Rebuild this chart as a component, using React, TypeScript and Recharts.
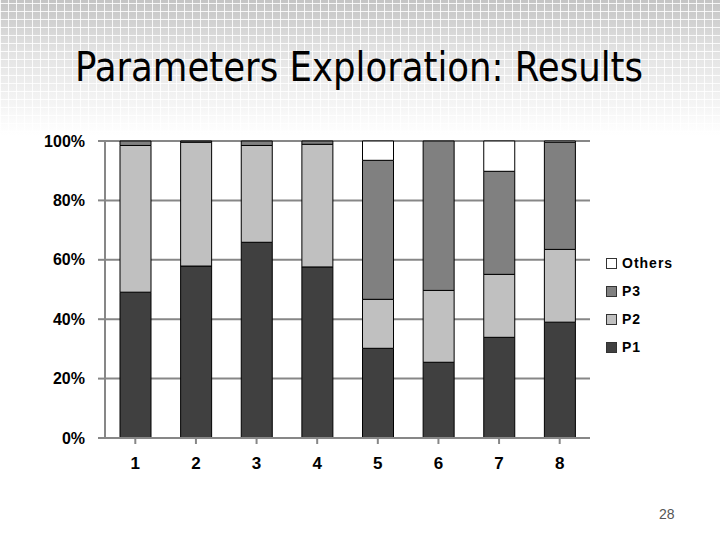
import React from "react";
import { Bar, BarChart, CartesianGrid, XAxis, YAxis } from "recharts";

const categories = ["1", "2", "3", "4", "5", "6", "7", "8"];
const p1 = [49.1, 57.9, 65.9, 57.6, 30.2, 25.5, 33.9, 39.0];
const p2 = [49.4, 41.7, 32.6, 41.3, 16.5, 24.2, 21.2, 24.5];
const p3 = [1.5, 0.4, 1.5, 1.1, 46.8, 50.3, 34.7, 36.1];
const others = [0, 0, 0, 0, 6.5, 0, 10.2, 0.4];
const yTicks = [0, 20, 40, 60, 80, 100];

const series = [
  { key: "P1", color: "#404040" },
  { key: "P2", color: "#c0c0c0" },
  { key: "P3", color: "#808080" },
  { key: "Others", color: "#ffffff" },
];

const data = categories.map((c, i) => ({
  name: c,
  P1: p1[i],
  P2: p2[i],
  P3: p3[i],
  Others: others[i],
}));

const labelFont = "'Liberation Sans', Arial, sans-serif";
const axisGray = "#878787";

// legend drawn by hand, recharts' Legend would eat plot space
function LegendBox() {
  return (
    <div style={{ position: "absolute", left: 606, top: 249, fontFamily: labelFont }}>
      {[...series].reverse().map((s) => (
        <div key={s.key} style={{ display: "flex", alignItems: "center", height: 28 }}>
          <span
            style={{
              width: 9,
              height: 9,
              background: s.color,
              border: "1px solid #333",
              marginRight: 5,
            }}
          />
          <span style={{ fontSize: 14, fontWeight: "bold", letterSpacing: 1, color: "#000" }}>{s.key}</span>
        </div>
      ))}
    </div>
  );
}

export default function App() {
  return (
    <div
      style={{
        position: "absolute",
        left: 0,
        top: 0,
        width: 720,
        height: 540,
        overflow: "hidden",
        background:
          "repeating-linear-gradient(90deg, rgba(255,255,255,0.85) 0 1px, transparent 1px 8px)," +
          "repeating-linear-gradient(0deg, rgba(255,255,255,0.85) 0 1px, transparent 1px 8px)," +
          "linear-gradient(#c4c4c4 0px, #e2e2e2 50px, #ffffff 135px)",
      }}
    >
      <svg width={720} height={130} style={{ position: "absolute", left: 0, top: 0 }}>
        <text
          x={75}
          y={81}
          fontSize={40}
          fontFamily="'Liberation Sans Narrow', 'DejaVu Sans Condensed', sans-serif"
          textLength={568}
          lengthAdjust="spacingAndGlyphs"
          fill="#000"
        >
          Parameters Exploration: Results
        </text>
      </svg>
      <div style={{ position: "absolute", left: 0, top: 0 }}>
        <BarChart
          width={720}
          height={540}
          data={data}
          margin={{ top: 141, left: 45, right: 130, bottom: 62 }}
        >
          <CartesianGrid vertical={false} stroke={axisGray} strokeWidth={2} />
          <XAxis
            dataKey="name"
            height={40}
            tickSize={6}
            tickMargin={13}
            stroke={axisGray}
            strokeWidth={2}
            tick={{ fill: "#000", fontSize: 17, fontWeight: "bold", fontFamily: labelFont }}
          />
          <YAxis
            width={60}
            domain={[0, 100]}
            ticks={yTicks}
            tickFormatter={(v) => `${v}%`}
            tickSize={7}
            tickMargin={13}
            stroke={axisGray}
            strokeWidth={2}
            tick={{ fill: "#000", fontSize: 16, fontWeight: "bold", fontFamily: labelFont }}
          />
          {series.map((s) => (
            <Bar
              key={s.key}
              dataKey={s.key}
              stackId="a"
              fill={s.color}
              stroke="#000"
              strokeWidth={1}
              barSize={31}
              isAnimationActive={false}
            />
          ))}
        </BarChart>
      </div>
      <LegendBox />
      <div
        style={{
          position: "absolute",
          left: 659,
          top: 506,
          fontFamily: labelFont,
          fontSize: 14,
          color: "#555",
        }}
      >
        28
      </div>
    </div>
  );
}
